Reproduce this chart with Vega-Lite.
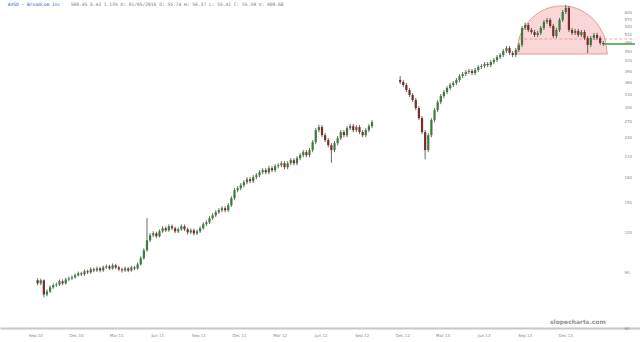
{
"$schema":"https://vega.github.io/schema/vega-lite/v6.json",
"width":640,"height":328,"autosize":"none",
"padding":{"left":0,"top":0,"right":0,"bottom":14},
"background":"white",
"config":{"view":{"stroke":null}},
"datasets":{
"one":[{}],
"dome":[
{"d":"2013-08-14","p":441.9},{"d":"2013-08-18","p":483.8},{"d":"2013-08-28","p":526.5},{"d":"2013-09-13","p":565.9},{"d":"2013-10-04","p":598.7},{"d":"2013-10-28","p":620.1},{"d":"2013-11-24","p":627.3},{"d":"2013-12-20","p":620.1},{"d":"2014-01-13","p":598.7},{"d":"2014-02-03","p":565.9},{"d":"2014-02-19","p":526.5},{"d":"2014-03-01","p":483.8},{"d":"2014-03-05","p":441.9}],
"ohlc":[
{"d":"2010-09-06","o":85.0,"h":86.3,"l":81.9,"c":83.1},
{"d":"2010-09-13","o":83.1,"h":86.0,"l":82.0,"c":84.9},
{"d":"2010-09-20","o":84.9,"h":85.5,"l":75.0,"c":76.6},
{"d":"2010-09-27","o":76.6,"h":79.5,"l":75.6,"c":78.3},
{"d":"2010-10-04","o":78.3,"h":81.8,"l":77.4,"c":80.7},
{"d":"2010-10-11","o":80.7,"h":83.0,"l":79.8,"c":81.9},
{"d":"2010-10-18","o":81.9,"h":83.6,"l":80.9,"c":82.4},
{"d":"2010-10-25","o":82.4,"h":85.4,"l":81.5,"c":84.3},
{"d":"2010-11-01","o":84.3,"h":85.5,"l":82.0,"c":83.1},
{"d":"2010-11-08","o":83.1,"h":86.6,"l":82.3,"c":85.5},
{"d":"2010-11-15","o":85.5,"h":87.3,"l":84.4,"c":86.1},
{"d":"2010-11-22","o":86.1,"h":88.0,"l":85.0,"c":86.8},
{"d":"2010-11-29","o":86.8,"h":89.3,"l":85.9,"c":88.1},
{"d":"2010-12-06","o":88.1,"h":90.5,"l":87.2,"c":89.3},
{"d":"2010-12-13","o":89.3,"h":90.4,"l":87.6,"c":88.7},
{"d":"2010-12-20","o":88.7,"h":91.9,"l":87.8,"c":90.7},
{"d":"2010-12-27","o":90.7,"h":91.8,"l":88.9,"c":90.0},
{"d":"2011-01-03","o":90.0,"h":93.3,"l":89.0,"c":92.0},
{"d":"2011-01-10","o":92.0,"h":93.2,"l":90.1,"c":91.3},
{"d":"2011-01-17","o":91.3,"h":93.9,"l":90.2,"c":92.6},
{"d":"2011-01-24","o":92.6,"h":93.7,"l":90.0,"c":91.3},
{"d":"2011-01-31","o":91.3,"h":94.6,"l":90.4,"c":93.3},
{"d":"2011-02-07","o":93.3,"h":95.4,"l":92.2,"c":94.0},
{"d":"2011-02-14","o":94.0,"h":95.1,"l":91.5,"c":92.6},
{"d":"2011-02-21","o":92.6,"h":96.0,"l":91.8,"c":94.7},
{"d":"2011-02-28","o":94.7,"h":95.8,"l":92.0,"c":93.3},
{"d":"2011-03-07","o":93.3,"h":94.4,"l":90.8,"c":92.0},
{"d":"2011-03-14","o":92.0,"h":93.1,"l":89.9,"c":91.3},
{"d":"2011-03-21","o":91.3,"h":93.8,"l":90.3,"c":92.6},
{"d":"2011-03-28","o":92.6,"h":93.6,"l":90.1,"c":91.3},
{"d":"2011-04-04","o":91.3,"h":94.5,"l":90.4,"c":93.3},
{"d":"2011-04-11","o":93.3,"h":94.4,"l":91.4,"c":92.6},
{"d":"2011-04-18","o":92.6,"h":96.7,"l":91.8,"c":95.4},
{"d":"2011-04-25","o":95.4,"h":101.2,"l":94.6,"c":99.7},
{"d":"2011-05-02","o":99.7,"h":107.3,"l":98.8,"c":105.7},
{"d":"2011-05-09","o":105.7,"h":133.5,"l":104.5,"c":113.7},
{"d":"2011-05-16","o":113.7,"h":119.8,"l":112.2,"c":117.9},
{"d":"2011-05-23","o":117.9,"h":121.4,"l":116.3,"c":119.6},
{"d":"2011-05-30","o":119.6,"h":121.0,"l":115.4,"c":117.1},
{"d":"2011-06-06","o":117.1,"h":123.1,"l":116.0,"c":121.4},
{"d":"2011-06-13","o":121.4,"h":126.0,"l":120.0,"c":124.1},
{"d":"2011-06-20","o":124.1,"h":125.8,"l":120.6,"c":122.3},
{"d":"2011-06-27","o":122.3,"h":127.7,"l":121.0,"c":125.9},
{"d":"2011-07-04","o":125.9,"h":127.6,"l":122.4,"c":124.1},
{"d":"2011-07-11","o":124.1,"h":125.6,"l":119.7,"c":121.4},
{"d":"2011-07-18","o":121.4,"h":124.9,"l":119.9,"c":123.2},
{"d":"2011-07-25","o":123.2,"h":127.7,"l":121.8,"c":125.9},
{"d":"2011-08-01","o":125.9,"h":127.6,"l":121.5,"c":123.2},
{"d":"2011-08-08","o":123.2,"h":124.8,"l":118.6,"c":120.5},
{"d":"2011-08-15","o":120.5,"h":124.0,"l":119.0,"c":122.3},
{"d":"2011-08-22","o":122.3,"h":123.9,"l":117.8,"c":119.6},
{"d":"2011-08-29","o":119.6,"h":123.1,"l":118.2,"c":121.4},
{"d":"2011-09-05","o":121.4,"h":125.9,"l":120.0,"c":124.1},
{"d":"2011-09-12","o":124.1,"h":129.7,"l":122.8,"c":127.8},
{"d":"2011-09-19","o":127.8,"h":131.5,"l":126.2,"c":129.6},
{"d":"2011-09-26","o":129.6,"h":135.5,"l":128.1,"c":133.5},
{"d":"2011-10-03","o":133.5,"h":138.4,"l":131.8,"c":136.4},
{"d":"2011-10-10","o":136.4,"h":141.6,"l":134.7,"c":139.5},
{"d":"2011-10-17","o":139.5,"h":143.6,"l":137.6,"c":141.5},
{"d":"2011-10-24","o":141.5,"h":145.8,"l":139.5,"c":143.6},
{"d":"2011-10-31","o":143.6,"h":145.6,"l":139.3,"c":141.5},
{"d":"2011-11-07","o":141.5,"h":149.0,"l":139.8,"c":146.8},
{"d":"2011-11-14","o":146.8,"h":156.8,"l":145.0,"c":154.5},
{"d":"2011-11-21","o":154.5,"h":166.3,"l":152.6,"c":163.8},
{"d":"2011-11-28","o":163.8,"h":168.7,"l":161.4,"c":166.2},
{"d":"2011-12-05","o":166.2,"h":172.4,"l":163.7,"c":169.8},
{"d":"2011-12-12","o":169.8,"h":176.2,"l":167.3,"c":173.6},
{"d":"2011-12-19","o":173.6,"h":180.1,"l":171.0,"c":177.4},
{"d":"2011-12-26","o":177.4,"h":180.0,"l":172.3,"c":174.9},
{"d":"2012-01-02","o":174.9,"h":182.8,"l":172.5,"c":180.1},
{"d":"2012-01-09","o":180.1,"h":185.4,"l":177.4,"c":182.7},
{"d":"2012-01-16","o":182.7,"h":189.5,"l":180.0,"c":186.7},
{"d":"2012-01-23","o":186.7,"h":192.3,"l":184.0,"c":189.5},
{"d":"2012-01-30","o":189.5,"h":192.4,"l":183.9,"c":186.7},
{"d":"2012-02-06","o":186.7,"h":195.2,"l":184.0,"c":192.3},
{"d":"2012-02-13","o":192.3,"h":195.1,"l":186.7,"c":189.5},
{"d":"2012-02-20","o":189.5,"h":198.0,"l":186.8,"c":195.1},
{"d":"2012-02-27","o":195.1,"h":199.4,"l":192.2,"c":196.5},
{"d":"2012-03-05","o":196.5,"h":202.4,"l":193.6,"c":199.4},
{"d":"2012-03-12","o":199.4,"h":202.3,"l":190.8,"c":193.7},
{"d":"2012-03-19","o":193.7,"h":202.4,"l":190.8,"c":199.4},
{"d":"2012-03-26","o":199.4,"h":206.9,"l":196.4,"c":203.8},
{"d":"2012-04-02","o":203.8,"h":206.8,"l":196.4,"c":199.4},
{"d":"2012-04-09","o":199.4,"h":209.9,"l":196.4,"c":206.8},
{"d":"2012-04-16","o":206.8,"h":214.6,"l":203.7,"c":211.4},
{"d":"2012-04-23","o":211.4,"h":219.3,"l":208.2,"c":216.1},
{"d":"2012-04-30","o":216.1,"h":219.3,"l":208.2,"c":211.4},
{"d":"2012-05-07","o":211.4,"h":222.6,"l":208.2,"c":219.3},
{"d":"2012-05-14","o":219.3,"h":236.0,"l":216.0,"c":232.5},
{"d":"2012-05-21","o":232.5,"h":257.5,"l":229.0,"c":253.7},
{"d":"2012-05-28","o":253.7,"h":264.0,"l":250.0,"c":259.4},
{"d":"2012-06-04","o":259.4,"h":263.3,"l":240.9,"c":244.6},
{"d":"2012-06-11","o":244.6,"h":248.3,"l":232.4,"c":235.9},
{"d":"2012-06-18","o":235.9,"h":239.4,"l":224.0,"c":227.4},
{"d":"2012-06-25","o":227.4,"h":230.8,"l":200.0,"c":219.3},
{"d":"2012-07-02","o":219.3,"h":234.3,"l":216.0,"c":230.8},
{"d":"2012-07-09","o":230.8,"h":242.9,"l":227.3,"c":239.3},
{"d":"2012-07-16","o":239.3,"h":253.9,"l":235.7,"c":250.1},
{"d":"2012-07-23","o":250.1,"h":253.9,"l":240.9,"c":244.6},
{"d":"2012-07-30","o":244.6,"h":261.4,"l":241.0,"c":257.5},
{"d":"2012-08-06","o":257.5,"h":265.2,"l":253.6,"c":261.3},
{"d":"2012-08-13","o":261.3,"h":265.2,"l":249.9,"c":253.7},
{"d":"2012-08-20","o":253.7,"h":263.3,"l":249.9,"c":259.4},
{"d":"2012-08-27","o":259.4,"h":263.3,"l":246.4,"c":250.1},
{"d":"2012-09-03","o":250.1,"h":253.9,"l":240.9,"c":244.6},
{"d":"2012-09-10","o":244.6,"h":257.5,"l":241.0,"c":253.7},
{"d":"2012-09-17","o":253.7,"h":265.2,"l":249.9,"c":261.3},
{"d":"2012-09-24","o":261.3,"h":273.0,"l":257.4,"c":269.0},
{"d":"2012-11-26","o":366.0,"h":376.3,"l":354.8,"c":360.2},
{"d":"2012-12-03","o":360.2,"h":365.6,"l":347.1,"c":352.4},
{"d":"2012-12-10","o":352.4,"h":357.7,"l":334.7,"c":339.8},
{"d":"2012-12-17","o":339.8,"h":344.9,"l":322.7,"c":327.6},
{"d":"2012-12-24","o":327.6,"h":332.5,"l":311.2,"c":315.9},
{"d":"2012-12-31","o":315.9,"h":320.6,"l":293.4,"c":297.9},
{"d":"2013-01-07","o":297.9,"h":302.4,"l":272.8,"c":277.0},
{"d":"2013-01-14","o":277.0,"h":281.2,"l":246.4,"c":250.1},
{"d":"2013-01-21","o":250.1,"h":253.9,"l":205.0,"c":219.3},
{"d":"2013-01-28","o":219.3,"h":248.3,"l":216.0,"c":244.6},
{"d":"2013-02-04","o":244.6,"h":277.1,"l":240.9,"c":273.0},
{"d":"2013-02-11","o":273.0,"h":298.0,"l":268.9,"c":293.6},
{"d":"2013-02-18","o":293.6,"h":316.0,"l":289.2,"c":311.3},
{"d":"2013-02-25","o":311.3,"h":330.1,"l":306.6,"c":325.2},
{"d":"2013-03-04","o":325.2,"h":339.9,"l":320.3,"c":334.9},
{"d":"2013-03-11","o":334.9,"h":350.0,"l":329.9,"c":344.8},
{"d":"2013-03-18","o":344.8,"h":357.7,"l":339.6,"c":352.4},
{"d":"2013-03-25","o":352.4,"h":363.0,"l":347.1,"c":357.6},
{"d":"2013-04-01","o":357.6,"h":371.0,"l":352.2,"c":365.5},
{"d":"2013-04-08","o":365.5,"h":381.9,"l":360.0,"c":376.3},
{"d":"2013-04-15","o":376.3,"h":387.6,"l":370.7,"c":381.9},
{"d":"2013-04-22","o":381.9,"h":393.3,"l":376.2,"c":387.5},
{"d":"2013-04-29","o":387.5,"h":396.2,"l":381.7,"c":390.3},
{"d":"2013-05-06","o":390.3,"h":396.2,"l":378.9,"c":384.7},
{"d":"2013-05-13","o":384.7,"h":399.1,"l":378.9,"c":393.2},
{"d":"2013-05-20","o":393.2,"h":407.9,"l":387.3,"c":401.9},
{"d":"2013-05-27","o":401.9,"h":410.9,"l":395.9,"c":404.8},
{"d":"2013-06-03","o":404.8,"h":416.9,"l":398.7,"c":410.7},
{"d":"2013-06-10","o":410.7,"h":416.9,"l":401.7,"c":407.8},
{"d":"2013-06-17","o":407.8,"h":423.1,"l":401.7,"c":416.8},
{"d":"2013-06-24","o":416.8,"h":429.2,"l":410.5,"c":422.9},
{"d":"2013-07-01","o":422.9,"h":438.8,"l":416.6,"c":432.3},
{"d":"2013-07-08","o":432.3,"h":445.2,"l":425.8,"c":438.6},
{"d":"2013-07-15","o":438.6,"h":458.4,"l":432.0,"c":451.6},
{"d":"2013-07-22","o":451.6,"h":468.5,"l":444.8,"c":461.6},
{"d":"2013-07-29","o":461.6,"h":468.5,"l":438.4,"c":445.1},
{"d":"2013-08-05","o":445.1,"h":451.8,"l":432.0,"c":438.6},
{"d":"2013-08-12","o":438.6,"h":461.8,"l":432.0,"c":455.0},
{"d":"2013-08-19","o":455.0,"h":479.0,"l":448.2,"c":471.9},
{"d":"2013-08-26","o":471.9,"h":542.2,"l":464.8,"c":534.2},
{"d":"2013-09-02","o":534.2,"h":554.2,"l":526.2,"c":546.0},
{"d":"2013-09-09","o":546.0,"h":554.2,"l":518.6,"c":526.5},
{"d":"2013-09-16","o":526.5,"h":534.4,"l":511.1,"c":518.9},
{"d":"2013-09-23","o":518.9,"h":526.7,"l":500.0,"c":507.6},
{"d":"2013-09-30","o":507.6,"h":522.8,"l":500.0,"c":515.1},
{"d":"2013-10-07","o":515.1,"h":542.2,"l":507.4,"c":534.2},
{"d":"2013-10-14","o":534.2,"h":566.6,"l":526.2,"c":558.2},
{"d":"2013-10-21","o":558.2,"h":574.9,"l":549.8,"c":566.4},
{"d":"2013-10-28","o":566.4,"h":574.9,"l":534.0,"c":542.1},
{"d":"2013-11-04","o":542.1,"h":550.2,"l":496.3,"c":503.9},
{"d":"2013-11-11","o":503.9,"h":534.4,"l":496.3,"c":526.5},
{"d":"2013-11-18","o":526.5,"h":574.9,"l":518.6,"c":566.4},
{"d":"2013-11-25","o":566.4,"h":609.4,"l":557.9,"c":600.4},
{"d":"2013-12-02","o":600.4,"h":632.0,"l":591.4,"c":618.2},
{"d":"2013-12-09","o":618.2,"h":627.5,"l":518.6,"c":526.5},
{"d":"2013-12-16","o":526.5,"h":534.4,"l":507.4,"c":515.1},
{"d":"2013-12-23","o":515.1,"h":530.5,"l":507.4,"c":522.7},
{"d":"2013-12-30","o":522.7,"h":530.5,"l":500.0,"c":507.6},
{"d":"2014-01-06","o":507.6,"h":526.7,"l":500.0,"c":518.9},
{"d":"2014-01-13","o":518.9,"h":526.7,"l":489.1,"c":496.6},
{"d":"2014-01-20","o":496.6,"h":504.1,"l":445.0,"c":471.9},
{"d":"2014-01-27","o":471.9,"h":504.1,"l":464.8,"c":496.6},
{"d":"2014-02-03","o":496.6,"h":515.2,"l":489.1,"c":507.6},
{"d":"2014-02-10","o":507.6,"h":515.2,"l":489.1,"c":496.6},
{"d":"2014-02-17","o":496.6,"h":504.1,"l":471.6,"c":478.8},
{"d":"2014-02-24","o":478.8,"h":486.0,"l":468.3,"c":475.4}
]},
"layer":[
{"data":{"name":"dome"},
 "mark":{"type":"area","interpolate":"monotone","fill":"#f8c9c9","fillOpacity":0.75,"stroke":"#e08585","strokeWidth":0.8},
 "encoding":{
  "x":{"field":"d","type":"temporal","scale":{"domain":[{"year":2010,"month":6,"date":25},{"year":2014,"month":5,"date":6}]},
       "axis":{"values":[{"year":2010,"month":9,"date":1},{"year":2010,"month":12,"date":1},{"year":2011,"month":3,"date":1},{"year":2011,"month":6,"date":1},{"year":2011,"month":9,"date":1},{"year":2011,"month":12,"date":1},{"year":2012,"month":3,"date":1},{"year":2012,"month":6,"date":1},{"year":2012,"month":9,"date":1},{"year":2012,"month":12,"date":1},{"year":2013,"month":3,"date":1},{"year":2013,"month":6,"date":1},{"year":2013,"month":9,"date":1},{"year":2013,"month":12,"date":1}],
       "format":"%b %y","title":null,"grid":false,"ticks":false,"labelFontSize":4,"labelColor":"#888","labelFont":"DejaVu Sans","labelPadding":5,"domainColor":"#c8c8c8","domainWidth":2,"labelFlush":false,"labelOverlap":false}},
  "y":{"field":"p","type":"quantitative","scale":{"type":"log","domain":[60,655],"nice":false},
       "axis":{"orient":"right","values":[60,90,120,150,180,210,240,270,300,330,360,390,420,450,480,510,540,570,600],"title":null,"grid":false,"ticks":false,"tickSize":0,"domain":false,"labelFontSize":4,"labelColor":"#888","labelFont":"DejaVu Sans","labelAlign":"left","labelPadding":-16,"labelOverlap":false,"labelFlush":false}},
  "y2":{"datum":441.9}}},
{"data":{"name":"one"},
 "mark":{"type":"rule","stroke":"#e89090","strokeDash":[3,2],"strokeWidth":0.8},
 "encoding":{"x":{"datum":{"year":2013,"month":8,"date":20},"type":"temporal"},"x2":{"datum":{"year":2014,"month":5,"date":6}},"y":{"datum":493,"type":"quantitative"}}},
{"data":{"name":"ohlc"},
 "mark":{"type":"rule","stroke":"#2a2a2a","strokeWidth":0.7},
 "encoding":{"x":{"field":"d","type":"temporal"},"y":{"field":"l","type":"quantitative"},"y2":{"field":"h"}}},
{"data":{"name":"ohlc"},
 "mark":{"type":"bar","size":2.2},
 "encoding":{"x":{"field":"d","type":"temporal"},"y":{"field":"o","type":"quantitative"},"y2":{"field":"c"},
  "color":{"condition":{"test":"datum.c >= datum.o","value":"#3d7a3d"},"value":"#7d2a2a"}}},
{"data":{"name":"one"},
 "mark":{"type":"rule","stroke":"#3aa13a","strokeWidth":1.5},
 "encoding":{"x":{"datum":{"year":2014,"month":2,"date":26},"type":"temporal"},"x2":{"datum":{"year":2014,"month":5,"date":6}},"y":{"datum":475.4,"type":"quantitative"}}},
{"data":{"name":"one"},
 "mark":{"type":"text","align":"left","baseline":"middle","font":"DejaVu Sans Mono","fontSize":4.6,"fill":"#2f52c9"},
 "encoding":{"x":{"datum":{"year":2010,"month":7,"date":1},"type":"temporal"},"y":{"datum":632,"type":"quantitative"},"text":{"value":"AVGO - Broadcom Inc"}}},
{"data":{"name":"one"},
 "mark":{"type":"text","align":"left","baseline":"middle","font":"DejaVu Sans Mono","fontSize":4.6,"fill":"#777"},
 "encoding":{"x":{"datum":{"year":2010,"month":11,"date":19},"type":"temporal"},"y":{"datum":632,"type":"quantitative"},"text":{"value":"560.45 6.43 1.13% D: 01/05/2016 O: 55.74 H: 56.37 L: 55.41 C: 55.59 V: 400.68"}}},
{"data":{"name":"one"},
 "mark":{"type":"text","align":"center","baseline":"middle","font":"DejaVu Sans","fontSize":6,"fontWeight":"bold","fill":"#929292"},
 "encoding":{"x":{"datum":{"year":2013,"month":12,"date":29},"type":"temporal"},"y":{"datum":62.5,"type":"quantitative"},"text":{"value":"slopecharts.com"}}}
]
}
